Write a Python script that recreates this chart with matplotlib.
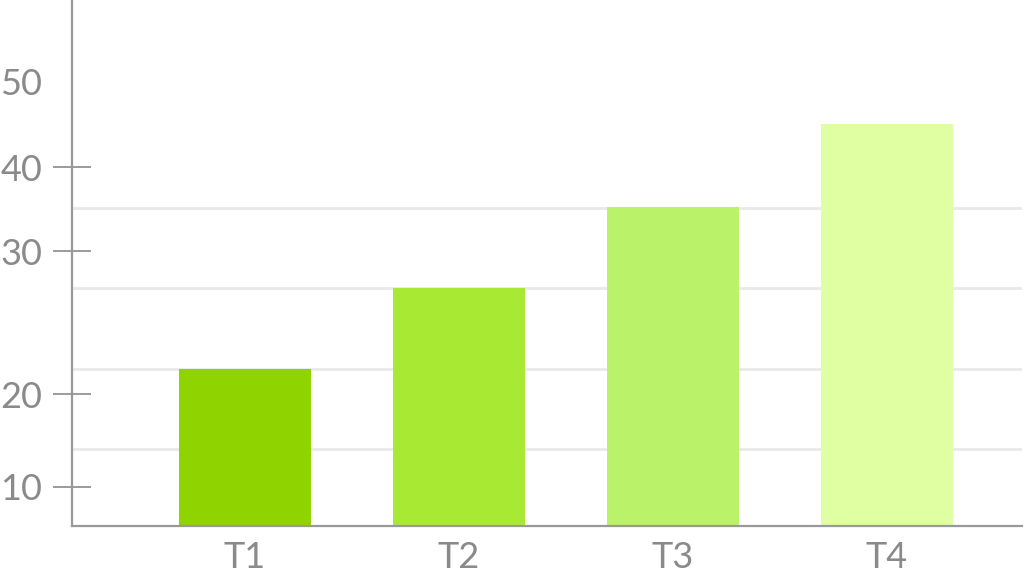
import matplotlib
matplotlib.use("Agg")
import matplotlib.pyplot as plt

categories = ["T1", "T2", "T3", "T4"]
values = [20.0, 30.0, 40.1, 50.5]
colors = ["#8fd400", "#a8e934", "#baf26a", "#e0ffa3"]
grid_values = [10, 20, 30, 40]
ytick_labels = ["10", "20", "30", "40", "50"]
ytick_pos = [5.3, 16.8, 34.6, 45.1, 55.8]

plt.rcParams['font.family'] = ['Lato', 'DejaVu Sans']

fig = plt.figure(figsize=(10.24, 5.83), dpi=100)
ax = fig.add_axes([72/1024, 57/583, 950/1024, 526/583])

x = list(range(len(categories)))
for g in grid_values:
    ax.axhline(g, color="#e9e9e9", lw=2.0, zorder=0)
ax.bar(x, values, width=0.617, color=colors, zorder=2)

ax.set_xlim(-0.808, 3.631)
ax.set_ylim(0.41, 65.9)

for s in ["top", "right"]:
    ax.spines[s].set_visible(False)
for s in ["left", "bottom"]:
    ax.spines[s].set_color("#999999")
    ax.spines[s].set_linewidth(1.6)
    ax.spines[s].set_zorder(3)

ax.set_xticks(x)
ax.set_xticklabels(categories)
ax.set_yticks(ytick_pos)
ax.set_yticklabels(ytick_labels)
ax.tick_params(axis="x", length=0, pad=11, labelsize=26, labelcolor="#8a8a8a")
ax.tick_params(axis="y", direction="inout", length=27, width=1.2, color="#8a8a8a",
               pad=8, labelsize=26, labelcolor="#8a8a8a")
for lab in ax.get_yticklabels() + ax.get_xticklabels():
    lab.set_fontweight("normal")
ax.yaxis.get_major_ticks()[-1].tick1line.set_visible(False)

fig.savefig("out.png", dpi=100, facecolor="white")
